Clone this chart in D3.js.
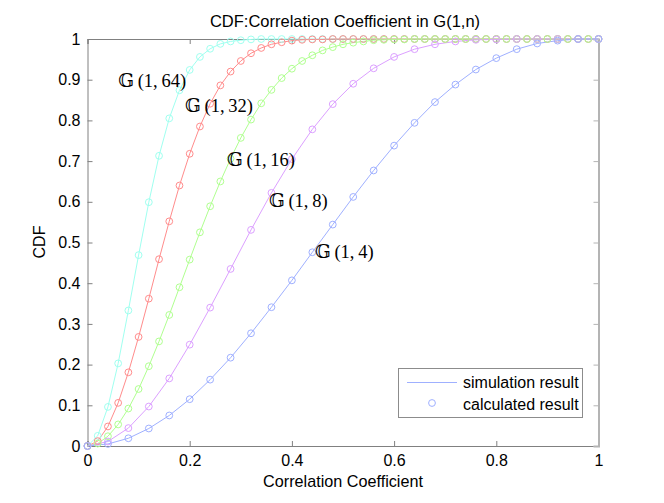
<!DOCTYPE html>
<html>
<head>
<meta charset="utf-8">
<script src="https://cdn.jsdelivr.net/npm/d3@7"></script>
<style>
  html, body { margin: 0; padding: 0; background: #fff; }
  svg { display: block; }
  text { font-family: "Liberation Sans", Arial, sans-serif; fill: #000; }
</style>
</head>
<body>
<svg id="chart" width="664" height="503"></svg>
<script>
// ---- data ----
const xFine = [0,0.02,0.04,0.06,0.08,0.10,0.12,0.14,0.16,0.18,0.20,0.22,0.24,0.26,0.28,0.30,0.32,0.34,0.36,0.38,0.40,0.42,0.44,0.46,0.48,0.50,0.52,0.54,0.56,0.58,0.60,0.62,0.64,0.66,0.68,0.70,0.72,0.74,0.76,0.78,0.80,0.82,0.84,0.86,0.88,0.90,0.92,0.94,0.96,0.98,1.00];
const xCoarse = [0,0.04,0.08,0.12,0.16,0.20,0.24,0.28,0.32,0.36,0.40,0.44,0.48,0.52,0.56,0.60,0.64,0.68,0.72,0.76,0.80,0.84,0.88,0.92,0.96,1.00];

const cdfN64 = [0,0.025,0.096,0.203,0.333,0.469,0.599,0.713,0.805,0.874,0.924,0.956,0.976,0.988,0.994,0.997,0.999,
  1,1,1,1,1,1,1,1,1,1,1,1,1,1,1,1,1,1,1,1,1,1,1,1,1,1,1,1,1,1,1,1,1,1,1];
const cdfN32 = [0,0.012,0.048,0.106,0.181,0.268,0.362,0.459,0.552,0.640,0.718,0.785,0.841,0.886,0.920,0.946,0.965,0.978,0.987,0.992,0.996,0.998,0.999,0.999,1,
  1,1,1,1,1,1,1,1,1,1,1,1,1,1,1,1,1,1,1,1,1,1,1,1,1,1];
const cdfN16 = [0,0.006,0.024,0.053,0.092,0.140,0.196,0.257,0.322,0.390,0.458,0.525,0.589,0.650,0.706,0.757,0.802,0.842,0.875,0.904,0.927,0.946,0.960,0.972,0.980,0.987,0.991,0.994,0.997,0.998,0.999,0.999,1,
  1,1,1,1,1,1,1,1,1,1,1,1,1,1,1,1,1,1];
const cdfN8 = [0,0.011,0.044,0.097,0.166,0.249,0.340,0.435,0.531,0.622,0.705,0.778,0.840,0.890,0.928,0.956,0.975,0.987,0.994,0.998,0.999,1,1,1,1,1];
const cdfN4 = [0,0.005,0.019,0.043,0.075,0.115,0.163,0.217,0.277,0.341,0.407,0.476,0.544,0.612,0.677,0.738,0.794,0.845,0.888,0.925,0.953,0.975,0.989,0.996,1,1];

const seriesNames = ["𝔾(1,64)", "𝔾(1,32)", "𝔾(1,16)", "𝔾(1,8)", "𝔾(1,4)"];
const seriesColors = ["#a0fff0", "#ff8c8c", "#b0ff90", "#dca0ff", "#9fb0ff"];

// curve labels (anchor in data coordinates)
const labelX = [0.060, 0.191, 0.273, 0.355, 0.445];
const labelY = [0.883, 0.821, 0.688, 0.587, 0.462];

const xTicks = [0, 0.2, 0.4, 0.6, 0.8, 1];
const yTicks = [0, 0.1, 0.2, 0.3, 0.4, 0.5, 0.6, 0.7, 0.8, 0.9, 1];

const titleText = "CDF:Correlation Coefficient in G(1,n)";
const xLabelText = "Correlation Coefficient";
const yLabelText = "CDF";
const legendItems = ["simulation result", "calculated result"];

// ---- build ----
const series = [
  {xs: xFine, ys: cdfN64},
  {xs: xFine, ys: cdfN32},
  {xs: xFine, ys: cdfN16},
  {xs: xCoarse, ys: cdfN8},
  {xs: xCoarse, ys: cdfN4}
].map((s, i) => ({name: seriesNames[i], color: seriesColors[i],
  pts: s.xs.map((xv, j) => [xv, s.ys[j]])}));

const PL = 87.5, PR = 598.5, PT = 39, PB = 446;
const xs = d3.scaleLinear().domain([0, 1]).range([PL, PR]);
const ys = d3.scaleLinear().domain([0, 1]).range([PB, PT]);

const svg = d3.select("#chart");
svg.append("rect").attr("width", 664).attr("height", 503).attr("fill", "#fff");

const axColor = "#808080";
const fmt = d => (d === 0 ? "0" : d === 1 ? "1" : d3.format(".1f")(d));

const gBottom = svg.append("g").attr("transform", `translate(0,${PB})`)
  .call(d3.axisBottom(xs).tickValues(xTicks).tickSize(-5).tickPadding(9).tickFormat(fmt));
const gTop = svg.append("g").attr("transform", `translate(0,${PT})`)
  .call(d3.axisTop(xs).tickValues(xTicks).tickSize(-5).tickFormat(""));
const gLeft = svg.append("g").attr("transform", `translate(${PL},0)`)
  .call(d3.axisLeft(ys).tickValues(yTicks).tickSize(-5).tickPadding(7).tickFormat(fmt));
const gRight = svg.append("g").attr("transform", `translate(${PR},0)`)
  .call(d3.axisRight(ys).tickValues(yTicks).tickSize(-5).tickFormat(""));

[gBottom, gTop, gLeft, gRight].forEach(g => {
  g.select(".domain").attr("stroke", axColor).attr("stroke-width", 1);
  g.selectAll(".tick line").attr("stroke", axColor);
  g.selectAll(".tick text").attr("font-size", 16)
    .attr("font-family", "Liberation Sans, Arial, sans-serif").attr("fill", "#000");
});
gRight.select(".domain").attr("stroke", "#b4b4b4").attr("stroke-width", 2);
gRight.selectAll(".tick line").attr("stroke", "#b4b4b4");

// curves
const line = d3.line().x(d => xs(d[0])).y(d => ys(d[1]));
const plot = svg.append("g");
series.forEach(s => {
  plot.append("path").datum(s.pts).attr("d", line)
    .attr("fill", "none").attr("stroke", s.color).attr("stroke-width", 1);
});
series.forEach(s => {
  plot.append("g").selectAll("circle").data(s.pts).join("circle")
    .attr("cx", d => xs(d[0])).attr("cy", d => ys(d[1])).attr("r", 3.4)
    .attr("fill", "none").attr("stroke", s.color).attr("stroke-width", 1);
});

// curve labels
svg.append("g").selectAll("text").data(seriesNames).join("text")
  .attr("x", (d, i) => xs(labelX[i])).attr("y", (d, i) => ys(labelY[i]))
  .attr("font-size", 18.5)
  .style("font-family", "'Liberation Serif', 'DejaVu Serif', serif")
  .text(d => d.replace("(", "\u2009(").replace(",", ",\u2009"));

// title & axis labels
svg.append("text").attr("x", 345).attr("y", 26.5).attr("text-anchor", "middle")
  .attr("font-size", 16.5).text(titleText);
svg.append("text").attr("x", 343).attr("y", 487).attr("text-anchor", "middle")
  .attr("font-size", 16.2).text(xLabelText);
svg.append("text").attr("transform", "translate(45,242) rotate(-90)")
  .attr("text-anchor", "middle").attr("font-size", 16).text(yLabelText);

// legend
const lg = svg.append("g");
lg.append("rect").attr("x", 398.5).attr("y", 368.5).attr("width", 184).attr("height", 49)
  .attr("fill", "#fff").attr("stroke", "#8c8c8c").attr("stroke-width", 1);
lg.append("line").attr("x1", 407).attr("x2", 457).attr("y1", 382.5).attr("y2", 382.5)
  .attr("stroke", seriesColors[4]).attr("stroke-width", 1);
lg.append("circle").attr("cx", 432).attr("cy", 403).attr("r", 3.4)
  .attr("fill", "none").attr("stroke", seriesColors[4]).attr("stroke-width", 1);
lg.selectAll("text.lt").data(legendItems).join("text").attr("class", "lt")
  .attr("x", 463).attr("y", (d, i) => 388 + i * 22).attr("font-size", 16).text(d => d);
</script>
</body>
</html>
